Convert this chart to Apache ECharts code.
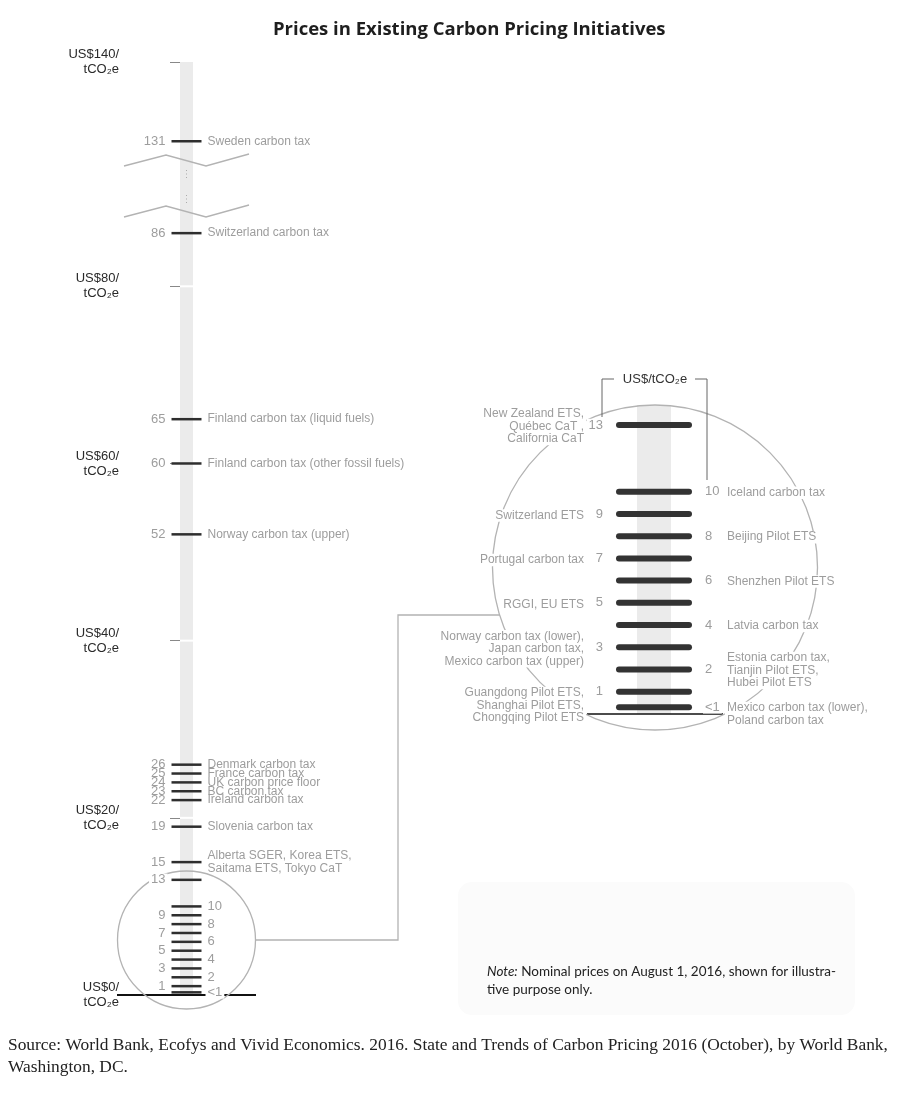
<!DOCTYPE html>
<html>
<head>
<meta charset="utf-8">
<title>Prices in Existing Carbon Pricing Initiatives</title>
<script src="https://cdn.jsdelivr.net/npm/echarts@6/dist/echarts.min.js"></script>
<style>
html, body { margin: 0; padding: 0; background: #fff; }
#main { width: 900px; height: 1110px; }
</style>
</head>
<body>
<div id="main"></div>
<script>
// ---------- data ----------
// overview scale, above the break
var topPrices = [131];
var topLabels = ['131'];
var topNames = ['Sweden carbon tax'];

// overview scale, below the break (US$/tCO2e)
var mainPrices = [86, 65, 60, 52, 26, 25, 24, 23, 22, 19, 15, 13, 10, 9, 8, 7, 6, 5, 4, 3, 2, 1, 0.3];
var mainLabels = ['86', '65', '60', '52', '26', '25', '24', '23', '22', '19', '15', '13', '10', '9', '8', '7', '6', '5', '4', '3', '2', '1', '<1'];
var mainNames = [
    'Switzerland carbon tax',
    'Finland carbon tax (liquid fuels)',
    'Finland carbon tax (other fossil fuels)',
    'Norway carbon tax (upper)',
    'Denmark carbon tax',
    'France carbon tax',
    'UK carbon price floor',
    'BC carbon tax',
    'Ireland carbon tax',
    'Slovenia carbon tax',
    'Alberta SGER, Korea ETS,\nSaitama ETS, Tokyo CaT',
    '', '', '', '', '', '', '', '', '', '', '', ''
];

// zoomed detail, US$13 and below
var zoomPrices = [13, 10, 9, 8, 7, 6, 5, 4, 3, 2, 1, 0.3];
var zoomLabels = ['13', '10', '9', '8', '7', '6', '5', '4', '3', '2', '1', '<1'];
var zoomNames = [
    'New Zealand ETS,\nQuébec CaT ,\nCalifornia CaT',
    'Iceland carbon tax',
    'Switzerland ETS',
    'Beijing Pilot ETS',
    'Portugal carbon tax',
    'Shenzhen Pilot ETS',
    'RGGI, EU ETS',
    'Latvia carbon tax',
    'Norway carbon tax (lower),\nJapan carbon tax,\nMexico carbon tax (upper)',
    'Estonia carbon tax,\nTianjin Pilot ETS,\nHubei Pilot ETS',
    'Guangdong Pilot ETS,\nShanghai Pilot ETS,\nChongqing Pilot ETS',
    'Mexico carbon tax (lower),\nPoland carbon tax'
];

// axis ticks
var topAxisTicks = [140];
var mainAxisTicks = [0, 20, 40, 60, 80];
var bandGaps = [20, 40, 80];

// ---------- helpers ----------
var SANS = '"Liberation Sans", Arial, sans-serif';
var GREY_TEXT = '#9d9d9d';
var DARK = '#2e2e2e';
var BAND = '#ebebeb';
var THIN = '#b3b3b3';

function toPoints(prices) {
    var res = [];
    for (var i = 0; i < prices.length; i++) res.push([0.5, prices[i]]);
    return res;
}

function textEl(x, y, txt, align, vAlign, bg, size) {
    var st = {
        text: txt, fill: GREY_TEXT, fontSize: size || 12, fontFamily: SANS,
        align: align, verticalAlign: vAlign, lineHeight: 12.5
    };
    if (bg) {
        st.backgroundColor = '#fff';
        st.padding = [0, 2];
        x += (align == 'right') ? 2 : -2;
    }
    return { type: 'text', x: x, y: y, style: st };
}

// side of a lone value label inside the circle: same as in the detail view
function sideOf(label) {
    return zoomLabels.indexOf(label) % 2 === 0 ? 'left' : 'right';
}

function overviewRenderer(labels, names) {
    return function (params, api) {
        var i = params.dataIndex;
        var v = api.value(1);
        var p = api.coord([0.5, v]);
        var x = p[0], y = p[1];
        var kids = [{
            type: 'line',
            shape: { x1: x - 15, y1: y, x2: x + 15, y2: y },
            style: { stroke: DARK, lineWidth: 2.5 }
        }];
        var bg = v <= 13;
        if (names[i]) {
            kids.push(textEl(x - 21, y, labels[i], 'right', 'middle', bg, 13));
            kids.push(textEl(x + 21, y, names[i], 'left', 'middle', false, 12));
        } else if (sideOf(labels[i]) == 'left') {
            kids.push(textEl(x - 21, y, labels[i], 'right', 'middle', bg, 13));
        } else {
            kids.push(textEl(x + 21, y, labels[i], 'left', 'middle', bg, 13));
        }
        return { type: 'group', children: kids };
    };
}

function detailRenderer(params, api) {
    var i = params.dataIndex;
    var v = api.value(1);
    var p = api.coord([0.5, v]);
    var x = p[0], y = p[1];
    var onLeft = i % 2 === 0;
    // the lowest two label blocks hang from the tick instead of centring on it
    var vAlign = v <= 1 ? 'top' : 'middle';
    var ny = v <= 1 ? y - 6.5 : y;
    var kids = [{
        type: 'line',
        shape: { x1: x - 35, y1: y, x2: x + 35, y2: y },
        style: { stroke: '#333', lineWidth: 6, lineCap: 'round' }
    }];
    if (onLeft) {
        kids.push(textEl(x - 51, y, zoomLabels[i], 'right', 'middle', true, 13));
        kids.push(textEl(x - 70, ny + 1.5, zoomNames[i], 'right', vAlign, true, 12));
    } else {
        kids.push(textEl(x + 51, y, zoomLabels[i], 'left', 'middle', true, 13));
        kids.push(textEl(x + 73, ny + 1, zoomNames[i], 'left', vAlign, true, 12));
    }
    return { type: 'group', children: kids };
}

function gapRenderer(params, api) {
    var a = api.coord([0, api.value(1)]);
    var b = api.coord([1, api.value(1)]);
    return { type: 'rect', shape: { x: a[0], y: a[1] - 1, width: b[0] - a[0], height: 2 }, style: { fill: '#fff' } };
}

function usdLabel(v) {
    return 'US$' + v + '/\ntCO\u2082e';
}

function leftAxis(grid, min, max, ticks) {
    return {
        gridIndex: grid, type: 'value', min: min, max: max, position: 'left', offset: 44,
        axisLine: { show: false },
        splitLine: { show: false },
        axisTick: { show: true, length: 10, customValues: ticks, lineStyle: { color: '#888', width: 1 } },
        axisLabel: {
            customValues: ticks, margin: 17, formatter: usdLabel, color: '#2a2a2a',
            fontSize: 13, fontFamily: SANS, lineHeight: 15, align: 'right'
        }
    };
}

var chart = echarts.init(document.getElementById('main'));

var option = {
    animation: false,
    title: {
        text: 'Prices in Existing Carbon Pricing Initiatives',
        left: 268, top: 15,
        textStyle: { fontFamily: '"Open Sans", sans-serif', fontWeight: 'bold', fontSize: 18.5, color: '#1e1e1e' }
    },
    grid: [
        { left: 180, width: 13, top: 62, height: 118, show: true, backgroundColor: BAND, borderWidth: 0 },
        { left: 180, width: 13, top: 180, height: 815, show: true, backgroundColor: BAND, borderWidth: 0 },
        { left: 637, width: 34, top: 405, height: 309, show: true, backgroundColor: BAND, borderWidth: 0 }
    ],
    xAxis: [
        { gridIndex: 0, type: 'value', min: 0, max: 1, show: false },
        { gridIndex: 1, type: 'value', min: 0, max: 1, show: false },
        { gridIndex: 2, type: 'value', min: 0, max: 1, show: false }
    ],
    yAxis: [
        leftAxis(0, 126.6, 140, topAxisTicks),
        leftAxis(1, 0, 92, mainAxisTicks),
        { gridIndex: 2, type: 'value', min: 0, max: 13.9, show: false }
    ],
    series: [
        {
            type: 'custom', name: 'gaps', xAxisIndex: 1, yAxisIndex: 1, z: 1,
            data: toPoints(bandGaps), renderItem: gapRenderer, silent: true
        },
        {
            type: 'custom', name: 'top', xAxisIndex: 0, yAxisIndex: 0, clip: false,
            data: toPoints(topPrices), renderItem: overviewRenderer(topLabels, topNames)
        },
        {
            type: 'custom', name: 'main', xAxisIndex: 1, yAxisIndex: 1, clip: false,
            data: toPoints(mainPrices), renderItem: overviewRenderer(mainLabels, mainNames)
        },
        {
            type: 'custom', name: 'detail', xAxisIndex: 2, yAxisIndex: 2, clip: false,
            data: toPoints(zoomPrices), renderItem: detailRenderer
        }
    ],
    graphic: [
        // axis break
        { type: 'polyline', z: 1, shape: { points: [[124, 166], [166, 155], [206, 166], [249, 154]] }, style: { stroke: THIN, lineWidth: 1.3, fill: null } },
        { type: 'polyline', z: 1, shape: { points: [[124, 217], [166, 206], [206, 217], [249, 205]] }, style: { stroke: THIN, lineWidth: 1.3, fill: null } },
        { type: 'line', z: 1, shape: { x1: 186.5, y1: 170, x2: 186.5, y2: 178 }, style: { stroke: '#aaa', lineWidth: 1, lineDash: [1, 2.5] } },
        { type: 'line', z: 1, shape: { x1: 186.5, y1: 195, x2: 186.5, y2: 203 }, style: { stroke: '#aaa', lineWidth: 1, lineDash: [1, 2.5] } },
        // zero baselines
        { type: 'line', z: 1, shape: { x1: 117, y1: 995, x2: 256, y2: 995 }, style: { stroke: '#111', lineWidth: 2 } },
        { type: 'line', z: 1, shape: { x1: 587, y1: 714, x2: 723, y2: 714 }, style: { stroke: '#111', lineWidth: 1.6 } },
        // magnifier
        { type: 'circle', z: 1, shape: { cx: 186.5, cy: 940, r: 69 }, style: { fill: 'transparent', stroke: THIN, lineWidth: 1.3 } },
        { type: 'polyline', z: 1, shape: { points: [[255.5, 940], [398, 940], [398, 615], [500, 615]] }, style: { stroke: THIN, lineWidth: 1.3, fill: null } },
        { type: 'circle', z: 1, shape: { cx: 655, cy: 567.5, r: 162.5 }, style: { fill: 'transparent', stroke: THIN, lineWidth: 1.3 } },
        // unit bracket
        { type: 'polyline', z: 1, shape: { points: [[602, 417], [602, 379], [614, 379]] }, style: { stroke: '#666', lineWidth: 1, fill: null } },
        { type: 'polyline', z: 1, shape: { points: [[695, 379], [707, 379], [707, 480]] }, style: { stroke: '#666', lineWidth: 1, fill: null } },
        { type: 'text', z: 1, x: 655, y: 379, style: { text: 'US$/tCO\u2082e', fill: '#333', fontSize: 13, fontFamily: SANS, align: 'center', verticalAlign: 'middle' } },
        // note
        { type: 'rect', z: 0, shape: { x: 458, y: 882, width: 397, height: 133, r: 14 }, style: { fill: '#fbfbfb' } },
        {
            type: 'text', z: 1, x: 487, y: 963,
            style: {
                text: '{i|Note:}{n| Nominal prices on August 1, 2016, shown for illustra-}\n{n|tive purpose only.}',
                rich: {
                    i: { fontFamily: 'Lato', fontSize: 13.5, fontStyle: 'italic', fill: '#222', lineHeight: 18 },
                    n: { fontFamily: 'Lato', fontSize: 13.5, fill: '#222', lineHeight: 18 }
                }
            }
        },
        // source
        {
            type: 'text', z: 1, x: 8, y: 1034,
            style: {
                text: 'Source: World Bank, Ecofys and Vivid Economics. 2016. State and Trends of Carbon Pricing 2016 (October), by World Bank,\nWashington, DC.',
                fill: '#222', fontSize: 17.4, fontFamily: '"Liberation Serif", serif', lineHeight: 22
            }
        }
    ]
};

chart.setOption(option);
</script>
</body>
</html>
